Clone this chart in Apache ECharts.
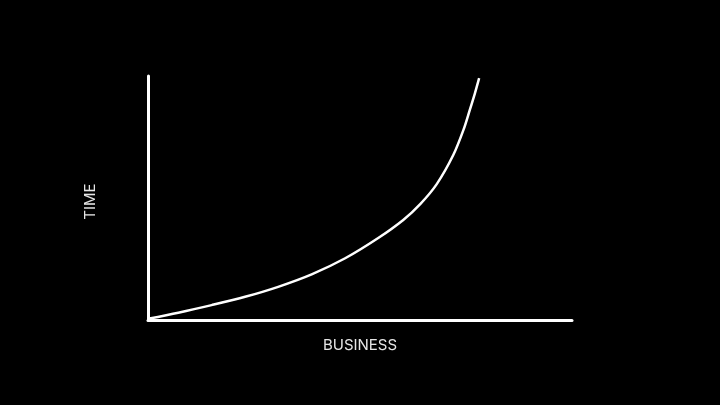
<!DOCTYPE html>
<html>
<head>
<meta charset="utf-8">
<style>
html,body{margin:0;padding:0;background:#000;}
#c{width:720px;height:405px;}
</style>
<script src="https://cdn.jsdelivr.net/npm/echarts@6/dist/echarts.min.js"></script>
</head>
<body>
<div id="c"></div>
<script>
var businessValues = [0, 7.15, 15.0, 22.9, 30.7, 38.6, 46.5, 54.3, 60.2, 64.2, 68.1, 72.0, 74.4, 75.9, 77.1, 78.1];
var timeValues = [0.5, 3.0, 6.1, 9.5, 13.6, 18.7, 25.3, 33.6, 41.0, 47.5, 55.7, 67.6, 77.9, 86.1, 92.9, 99.1];
var xName = 'BUSINESS';
var yName = 'TIME';

var data = businessValues.map(function (x, i) { return [x, timeValues[i]]; });

var chart = echarts.init(document.getElementById('c'));
chart.setOption({
  backgroundColor: '#000',
  animation: false,
  grid: { left: 148, right: 148, top: 76, bottom: 85, containLabel: false },
  xAxis: {
    type: 'value', min: 0, max: 100,
    name: xName, nameLocation: 'middle', nameGap: 18,
    nameTextStyle: { color: '#e6e6e6', fontSize: 15, fontFamily: 'Inter' },
    axisLine: { show: true, onZero: false, lineStyle: { color: '#fff', width: 3 } },
    axisTick: { show: false }, axisLabel: { show: false }, splitLine: { show: false }
  },
  yAxis: {
    type: 'value', min: 0, max: 100,
    name: yName, nameLocation: 'middle', nameGap: 50,
    nameTextStyle: { color: '#e6e6e6', fontSize: 15, fontFamily: 'Inter', padding: [0, 7, 0, 0] },
    axisLine: { show: true, onZero: false, lineStyle: { color: '#fff', width: 3 } },
    axisTick: { show: false }, axisLabel: { show: false }, splitLine: { show: false }
  },
  series: [{
    type: 'line',
    data: data,
    smooth: 0.3,
    showSymbol: false,
    clip: false,
    lineStyle: { color: '#fff', width: 2.5 }
  }]
});
</script>
</body>
</html>
